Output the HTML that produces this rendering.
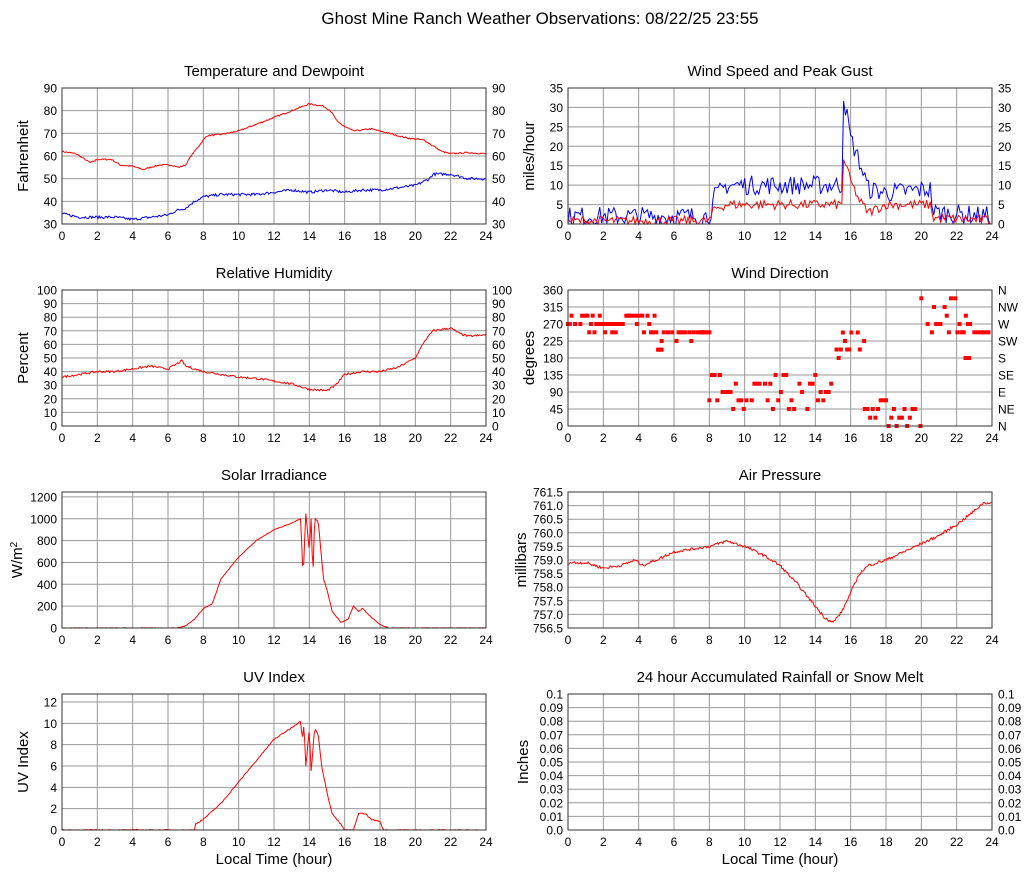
<!DOCTYPE html>
<html><head><meta charset="utf-8"><style>
body{margin:0;background:#fff;}
svg text{font-family:"Liberation Sans",sans-serif;fill:#000;}
</style></head><body>
<svg id="s" width="1027" height="878" xmlns="http://www.w3.org/2000/svg"></svg>
<script>
const S=document.getElementById('s');let h='';
h+='<rect width="1027" height="878" fill="#fff"/>';
h+='<text x="540" y="24" font-size="17" text-anchor="middle">Ghost Mine Ranch Weather Observations: 08/22/25 23:55</text>';
let seed=7;function rnd(){seed=(seed*16807)%2147483647;return seed/2147483647;}
function interp(pts,t){for(let i=0;i<pts.length-1;i++){if(t>=pts[i][0]&&t<=pts[i+1][0]){const a=pts[i],b=pts[i+1];return a[1]+(b[1]-a[1])*(t-a[0])/(b[0]-a[0]||1);}}return null;}
function panel(o){
 const X=o.x,Y=o.y,W=424,H=136;const sx=t=>X+t*W/24,sy=v=>Y+H-(v-o.min)/(o.max-o.min)*H;
 h+=`<text x="${X+W/2}" y="${Y-12}" font-size="15" text-anchor="middle">${o.title}</text>`;
 for(let t=2;t<24;t+=2)h+=`<line x1="${sx(t)}" y1="${Y}" x2="${sx(t)}" y2="${Y+H}" stroke="#999" stroke-width="1"/>`;
 o.ticks.forEach((v,i)=>{const y=sy(v);h+=`<line x1="${X}" y1="${y}" x2="${X+W}" y2="${y}" stroke="#999" stroke-width="1"/>`;
  h+=`<text x="${X-5}" y="${y+4.5}" font-size="12" text-anchor="end">${o.lab?o.lab[i]:v}</text>`;
  if(o.right)h+=`<text x="${X+W+6}" y="${y+4.5}" font-size="12">${o.rlab?o.rlab[i]:(o.lab?o.lab[i]:v)}</text>`;});
 for(let t=0;t<=24;t+=2)h+=`<text x="${sx(t)}" y="${Y+H+16}" font-size="12" text-anchor="middle">${t}</text>`;
 h+=`<text transform="translate(${X-(o.yoff||34)},${Y+H/2}) rotate(-90)" font-size="15" text-anchor="middle">${o.ylab}</text>`;
 (o.series||[]).forEach(s=>{let p=[];const st=s.st||0.06;for(let t=s.t0;t<=s.t1+1e-9;t+=st){let v=interp(s.pts,t);if(v==null)continue;v+=(rnd()-0.5)*(s.n||0);v=Math.max(o.min,v);p.push(sx(t).toFixed(1)+','+sy(v).toFixed(1));}
  h+=`<polyline points="${p.join(' ')}" fill="none" stroke="${s.c}" stroke-width="1"/>`;});
 (o.dots||[]).forEach(d=>{h+=`<rect x="${sx(d[0])-2}" y="${sy(d[1])-2}" width="4" height="4" fill="red"/>`;});
 h+=`<rect x="${X}" y="${Y}" width="${W}" height="${H}" fill="none" stroke="#333" stroke-width="1"/>`;
 if(o.xl)h+=`<text x="${X+W/2}" y="${Y+H+34}" font-size="15" text-anchor="middle">Local Time (hour)</text>`;
}
const L=62,R=568;
panel({x:L,y:88,min:30,max:90,ticks:[30,40,50,60,70,80,90],right:1,title:'Temperature and Dewpoint',ylab:'Fahrenheit',series:[
{c:'red',t0:0,t1:24,n:0.6,pts:[[0,62],[0.8,61],[1.2,59],[1.6,57],[2,58.5],[2.8,58.5],[3.3,56],[4,55.5],[4.6,54],[5,55],[5.5,56],[6.2,56],[6.6,55],[7,56],[7.3,60],[7.8,65],[8.2,69],[9,69.5],[10,71],[11,74],[12,77],[13,80],[14,83],[14.8,82],[15.2,80],[15.6,75],[16,73],[16.5,71],[17.5,72],[18.5,70],[19.5,68],[20.5,67],[21.5,62],[22,61],[23,61.5],[24,61]]},
{c:'blue',t0:0,t1:24,n:1.2,pts:[[0,34.5],[1,33],[2,33],[3,33],[4,32],[5,33],[6,34],[6.5,36],[7,37],[7.5,40],[8,42],[9,43],[10,43],[11,43],[12,44],[13,45],[14,44],[15,45],[16,44],[17,45],[18,45],[19,46],[20,47],[20.8,50],[21,52],[22,52],[23,50],[24,50]]}]});
panel({x:R,y:88,min:0,max:35,ticks:[0,5,10,15,20,25,30,35],right:1,title:'Wind Speed and Peak Gust',ylab:'miles/hour',series:[
{c:'blue',t0:0,t1:24,n:5,st:0.1,pts:[[0,2],[8,2],[8.3,7],[9,10],[15.5,10],[15.6,33],[16,22],[16.5,16],[17,9],[18,8],[20.5,9],[20.7,3],[24,2]]},
{c:'red',t0:0,t1:24,n:2.5,st:0.1,pts:[[0,0.8],[8,0.8],[8.3,4],[9,5],[15.5,5],[15.6,17],[16,11],[16.5,6],[17,3],[18,5],[20.5,5],[20.7,1.5],[24,1]]}]});
panel({x:L,y:290,min:0,max:100,ticks:[0,10,20,30,40,50,60,70,80,90,100],right:1,title:'Relative Humidity',ylab:'Percent',series:[
{c:'red',t0:0,t1:24,n:1.5,pts:[[0,36],[1,38],[2,40],[3,40],[4,42],[5,44],[6,42],[6.8,48],[7,44],[8,40],[9,38],[10,36],[11,35],[12,33],[13,31],[14,27],[15,26],[15.5,30],[16,38],[17,40],[18,40],[19,43],[20,50],[20.5,62],[21,70],[22,72],[22.5,68],[23,66],[24,67]]}]});
let dots=[];function dr(a,b,f,st){for(let t=a;t<b;t+=(st||0.2))if(rnd()>0.15)dots.push([t,f()]);}
dr(0,5,()=>[270,292,292,292,292,248,270][Math.floor(rnd()*7)],0.1);dr(5,5.3,()=>202,0.1);dr(5.3,7.6,()=>[248,248,225,248][Math.floor(rnd()*4)],0.12);dr(7.6,8,()=>248,0.1);
dr(8,15.2,()=>[68,90,112,90,68,112,135,45][Math.floor(rnd()*8)],0.15);dr(15.2,16.8,()=>180+Math.floor(rnd()*4)*22.5,0.12);
dr(16.8,20,()=>[0,22,45,22,45,68][Math.floor(rnd()*6)],0.15);dr(20,23,()=>[270,292,315,338,248][Math.floor(rnd()*5)],0.12);dr(22.5,22.8,()=>180,0.1);dr(23,24,()=>248,0.1);
panel({x:R,y:290,min:0,max:360,ticks:[0,45,90,135,180,225,270,315,360],right:1,rlab:['N','NE','E','SE','S','SW','W','NW','N'],title:'Wind Direction',ylab:'degrees',dots:dots});
panel({x:L,y:492,min:0,max:1245,ticks:[0,200,400,600,800,1000,1200],title:'Solar Irradiance',ylab:'W/m<tspan dy="-5" font-size="10">2</tspan>',yoff:40,series:[
{c:'red',t0:0,t1:24,n:6,pts:[[0,0],[6.5,0],[7,20],[7.5,80],[8,180],[8.5,220],[9,450],[10,650],[11,800],[12,900],[13,960],[13.5,1000],[13.65,470],[13.8,1050],[14,700],[14.1,1000],[14.2,450],[14.3,1000],[14.5,980],[14.8,450],[15,350],[15.3,150],[15.8,50],[16.2,80],[16.5,200],[16.8,150],[17,180],[17.5,100],[18,30],[18.5,0],[24,0]]}]});
panel({x:R,y:492,min:756.5,max:761.5,ticks:[756.5,757,757.5,758,758.5,759,759.5,760,760.5,761,761.5],lab:['756.5','757.0','757.5','758.0','758.5','759.0','759.5','760.0','760.5','761.0','761.5'],title:'Air Pressure',ylab:'millibars',yoff:42,series:[
{c:'red',t0:0,t1:24,n:0.1,pts:[[0,758.9],[1,758.9],[2,758.7],[3,758.8],[3.8,759.0],[4.2,758.8],[5,759.0],[6,759.3],[7,759.4],[8,759.5],[9,759.7],[10,759.5],[11,759.2],[12,758.8],[13,758.1],[14,757.3],[14.5,756.9],[15,756.7],[15.5,757.1],[16,757.8],[16.5,758.5],[17,758.8],[18,759.0],[19,759.3],[20,759.6],[21,759.9],[22,760.3],[23,760.8],[23.5,761.1],[24,761.1]]}]});
panel({x:L,y:694,min:0,max:12.75,ticks:[0,2,4,6,8,10,12],title:'UV Index',ylab:'UV Index',xl:1,series:[
{c:'red',t0:0,t1:24,n:0.1,pts:[[0,0],[7.5,0],[7.5,0.5],[8,1],[9,2.5],[10,4.5],[11,6.5],[12,8.5],[13,9.6],[13.5,10.2],[13.6,8.5],[13.7,10],[13.8,6],[14,9.5],[14.1,5.5],[14.3,9.5],[14.5,9],[14.7,6],[15,3.5],[15.3,1.5],[15.8,0.5],[16,0],[16.5,0],[16.8,1.6],[17.2,1.5],[17.5,1],[18,0.8],[18.2,0],[24,0]]}]});
panel({x:R,y:694,min:0,max:0.1,ticks:[0,0.01,0.02,0.03,0.04,0.05,0.06,0.07,0.08,0.09,0.1],lab:['0.0','0.01','0.02','0.03','0.04','0.05','0.06','0.07','0.08','0.09','0.1'],right:1,title:'24 hour Accumulated Rainfall or Snow Melt',ylab:'Inches',yoff:40,xl:1,series:[
{c:'red',t0:0,t1:24,n:0,pts:[[0,0],[24,0]]}]});
S.innerHTML=h;
</script>
</body></html>
